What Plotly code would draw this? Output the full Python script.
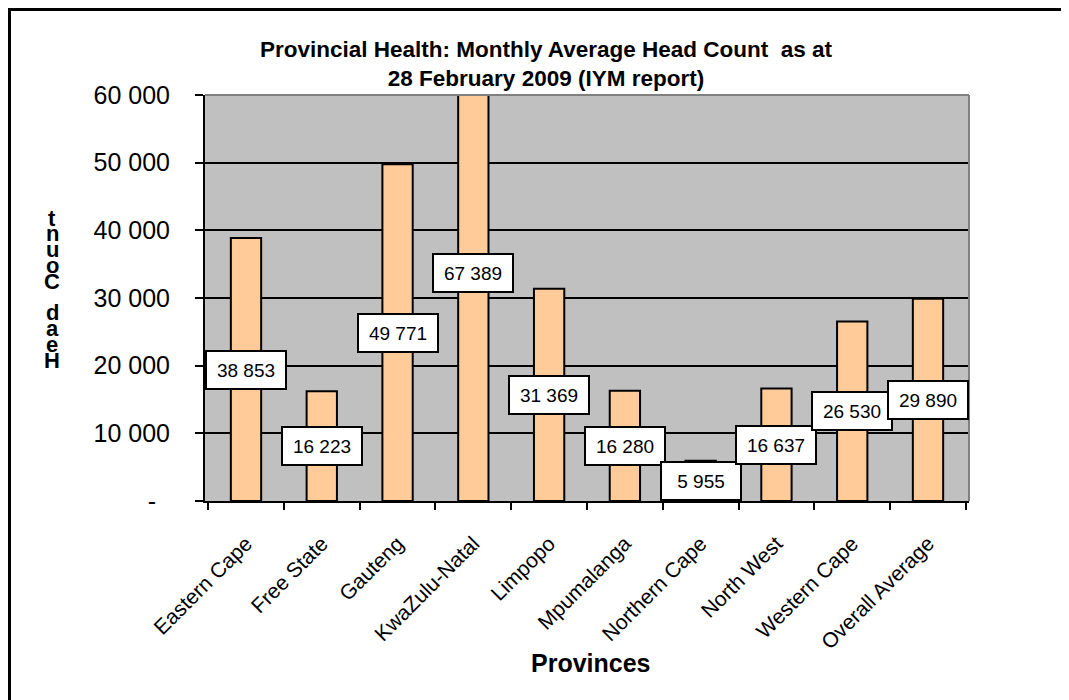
import plotly.graph_objects as go

provinces = ["Eastern Cape", "Free State", "Gauteng", "KwaZulu-Natal", "Limpopo",
             "Mpumalanga", "Northern Cape", "North West", "Western Cape", "Overall Average"]
head_count = [38853, 16223, 49771, 67389, 31369, 16280, 5955, 16637, 26530, 29890]
y_ticks = [0, 10000, 20000, 30000, 40000, 50000, 60000]
y_tick_labels = ["-\u00a0\u00a0", "10 000", "20 000", "30 000", "40 000", "50 000", "60 000"]
y_title = "Head Count"

# the page body has an 8px margin, so the figure is a little smaller than the window
OFF = 8
W, H = 1069 - OFF, 700 - OFF
L, R, T, B = 205 - OFF, 100, 95 - OFF, 199
PW, PH = W - L - R, H - T - B
FONT = "Liberation Sans, Arial"


def px_x(sx):
    # screen x -> paper x
    return (sx - OFF - L) / PW


def px_y(sy):
    # screen y -> paper y
    return (H - B - (sy - OFF)) / PH


def fmt(v):
    return f"{v:,}".replace(",", " ")


fig = go.Figure(go.Bar(
    x=provinces,
    y=head_count,
    marker=dict(color="#FFCC99", line=dict(color="black", width=2)),
    hoverinfo="x+y",
))

annotations = []
for p, v in zip(provinces, head_count):
    annotations.append(dict(
        x=p, y=v / 2, xref="x", yref="y", text=fmt(v), showarrow=False,
        font=dict(family=FONT, size=19, color="black"),
        bgcolor="white", bordercolor="black", borderwidth=2, borderpad=6,
        width=66, height=24,
    ))

# stacked letters of the y-axis title, read bottom to top as in the original
for i, ch in enumerate(reversed(y_title)):
    if ch == " ":
        continue
    annotations.append(dict(
        x=px_x(52), y=px_y(218 + i * 15.8), xref="paper", yref="paper",
        text=f"<b>{ch}</b>", showarrow=False, xanchor="center", yanchor="middle",
        font=dict(family=FONT, size=22, color="black"),
    ))

annotations.append(dict(
    x=px_x(591), y=px_y(663), xref="paper", yref="paper", text="<b>Provinces</b>",
    showarrow=False, xanchor="center", yanchor="middle",
    font=dict(family=FONT, size=25, color="black"),
))

shapes = [
    # grey top and right edges of the plot area
    dict(type="line", xref="paper", yref="paper", x0=0, x1=1, y0=1, y1=1,
         line=dict(color="#808080", width=2), layer="above"),
    dict(type="line", xref="paper", yref="paper", x0=1, x1=1, y0=0, y1=1,
         line=dict(color="#808080", width=2), layer="above"),
    # outer chart border
    dict(type="line", xref="paper", yref="paper", x0=px_x(9.5), x1=px_x(9.5),
         y0=px_y(9), y1=px_y(710), line=dict(color="black", width=3)),
    dict(type="line", xref="paper", yref="paper", x0=px_x(8), x1=px_x(1080),
         y0=px_y(9.5), y1=px_y(9.5), line=dict(color="black", width=3)),
]

fig.update_layout(
    width=W, height=H,
    margin=dict(l=L, r=R, t=T, b=B),
    paper_bgcolor="white",
    plot_bgcolor="#C0C0C0",
    bargap=0.6,
    showlegend=False,
    title=dict(
        text="<b>Provincial Health: Monthly Average Head Count  as at<br>28 February 2009 (IYM report)</b>",
        x=(546 - OFF) / W, xanchor="center", y=1 - (57 - OFF) / H, yanchor="middle",
        xref="container", yref="container",
        font=dict(family=FONT, size=22.5, color="black"),
    ),
    xaxis=dict(
        showgrid=False, showline=True, linecolor="black", linewidth=2,
        ticks="outside", tickson="boundaries", ticklen=7, tickwidth=2, tickcolor="black",
        tickangle=-45, ticklabelstandoff=20,
        tickfont=dict(family=FONT, size=21, color="black"),
    ),
    yaxis=dict(
        range=[0, 60000], tickvals=y_ticks, ticktext=y_tick_labels,
        showgrid=True, gridcolor="black", gridwidth=1.5, zeroline=False,
        showline=True, linecolor="black", linewidth=2,
        ticks="outside", ticklen=8, tickwidth=2, tickcolor="black",
        ticklabelstandoff=20,
        tickfont=dict(family=FONT, size=25, color="black"),
    ),
    annotations=annotations,
    shapes=shapes,
)

fig.write_html("out.html")
